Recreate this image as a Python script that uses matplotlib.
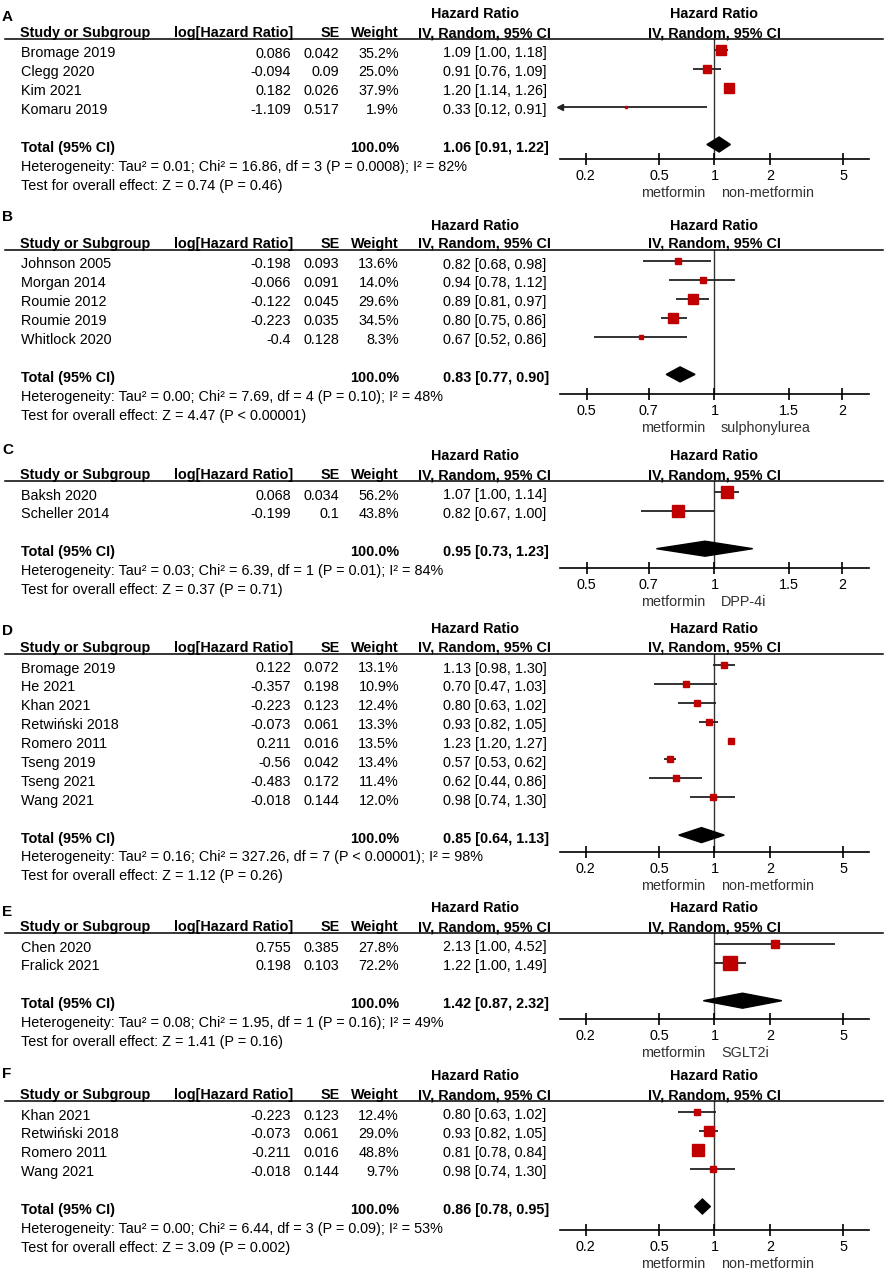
import matplotlib
matplotlib.use('Agg')
import matplotlib.pyplot as plt
from matplotlib.lines import Line2D

plt.rcParams['font.family'] = ['Liberation Sans', 'DejaVu Sans']

W, H = 891, 1273
fig = plt.figure(figsize=(W / 100, H / 100), dpi=100)

# ---- data ----
# A: metformin vs non-metformin
a_study = ['Bromage 2019', 'Clegg 2020', 'Kim 2021', 'Komaru 2019']
a_loghr = [0.086, -0.094, 0.182, -1.109]
a_se = [0.042, 0.09, 0.026, 0.517]
a_weight = [35.2, 25.0, 37.9, 1.9]
a_hr = [1.09, 0.91, 1.20, 0.33]
a_lo = [1.00, 0.76, 1.14, 0.12]
a_hi = [1.18, 1.09, 1.26, 0.91]
a_total = [1.06, 0.91, 1.22]
a_het = 'Heterogeneity: Tau² = 0.01; Chi² = 16.86, df = 3 (P = 0.0008); I² = 82%'
a_test = 'Test for overall effect: Z = 0.74 (P = 0.46)'
a_groups = ['metformin', 'non-metformin']

# B: metformin vs sulphonylurea
b_study = ['Johnson 2005', 'Morgan 2014', 'Roumie 2012', 'Roumie 2019', 'Whitlock 2020']
b_loghr = [-0.198, -0.066, -0.122, -0.223, -0.4]
b_se = [0.093, 0.091, 0.045, 0.035, 0.128]
b_weight = [13.6, 14.0, 29.6, 34.5, 8.3]
b_hr = [0.82, 0.94, 0.89, 0.80, 0.67]
b_lo = [0.68, 0.78, 0.81, 0.75, 0.52]
b_hi = [0.98, 1.12, 0.97, 0.86, 0.86]
b_total = [0.83, 0.77, 0.90]
b_het = 'Heterogeneity: Tau² = 0.00; Chi² = 7.69, df = 4 (P = 0.10); I² = 48%'
b_test = 'Test for overall effect: Z = 4.47 (P < 0.00001)'
b_groups = ['metformin', 'sulphonylurea']

# C: metformin vs DPP-4i
c_study = ['Baksh 2020', 'Scheller 2014']
c_loghr = [0.068, -0.199]
c_se = [0.034, 0.1]
c_weight = [56.2, 43.8]
c_hr = [1.07, 0.82]
c_lo = [1.00, 0.67]
c_hi = [1.14, 1.00]
c_total = [0.95, 0.73, 1.23]
c_het = 'Heterogeneity: Tau² = 0.03; Chi² = 6.39, df = 1 (P = 0.01); I² = 84%'
c_test = 'Test for overall effect: Z = 0.37 (P = 0.71)'
c_groups = ['metformin', 'DPP-4i']

# D: metformin vs non-metformin
d_study = ['Bromage 2019', 'He 2021', 'Khan 2021', 'Retwiński 2018', 'Romero 2011',
           'Tseng 2019', 'Tseng 2021', 'Wang 2021']
d_loghr = [0.122, -0.357, -0.223, -0.073, 0.211, -0.56, -0.483, -0.018]
d_se = [0.072, 0.198, 0.123, 0.061, 0.016, 0.042, 0.172, 0.144]
d_weight = [13.1, 10.9, 12.4, 13.3, 13.5, 13.4, 11.4, 12.0]
d_hr = [1.13, 0.70, 0.80, 0.93, 1.23, 0.57, 0.62, 0.98]
d_lo = [0.98, 0.47, 0.63, 0.82, 1.20, 0.53, 0.44, 0.74]
d_hi = [1.30, 1.03, 1.02, 1.05, 1.27, 0.62, 0.86, 1.30]
d_total = [0.85, 0.64, 1.13]
d_het = 'Heterogeneity: Tau² = 0.16; Chi² = 327.26, df = 7 (P < 0.00001); I² = 98%'
d_test = 'Test for overall effect: Z = 1.12 (P = 0.26)'
d_groups = ['metformin', 'non-metformin']

# E: metformin vs SGLT2i
e_study = ['Chen 2020', 'Fralick 2021']
e_loghr = [0.755, 0.198]
e_se = [0.385, 0.103]
e_weight = [27.8, 72.2]
e_hr = [2.13, 1.22]
e_lo = [1.00, 1.00]
e_hi = [4.52, 1.49]
e_total = [1.42, 0.87, 2.32]
e_het = 'Heterogeneity: Tau² = 0.08; Chi² = 1.95, df = 1 (P = 0.16); I² = 49%'
e_test = 'Test for overall effect: Z = 1.41 (P = 0.16)'
e_groups = ['metformin', 'SGLT2i']

# F: metformin vs non-metformin
f_study = ['Khan 2021', 'Retwiński 2018', 'Romero 2011', 'Wang 2021']
f_loghr = [-0.223, -0.073, -0.211, -0.018]
f_se = [0.123, 0.061, 0.016, 0.144]
f_weight = [12.4, 29.0, 48.8, 9.7]
f_hr = [0.80, 0.93, 0.81, 0.98]
f_lo = [0.63, 0.82, 0.78, 0.74]
f_hi = [1.02, 1.05, 0.84, 1.30]
f_total = [0.86, 0.78, 0.95]
f_het = 'Heterogeneity: Tau² = 0.00; Chi² = 6.44, df = 3 (P = 0.09); I² = 53%'
f_test = 'Test for overall effect: Z = 3.09 (P = 0.002)'
f_groups = ['metformin', 'non-metformin']

wide_ticks = [0.2, 0.5, 1, 2, 5]
wide_labels = ['0.2', '0.5', '1', '2', '5']
narrow_ticks = [0.5, 0.7, 1, 1.5, 2]
narrow_labels = ['0.5', '0.7', '1', '1.5', '2']

# ---- layout helpers (pixels) ----
STEP = 18.9
FS = 10.4
RED = '#c00000'


def fx(x):
    return x / W


def fy(y):
    return 1 - y / H


def txt(x, y, s, **kw):
    kw.setdefault('fontsize', FS)
    kw.setdefault('va', 'baseline')
    fig.text(fx(x), fy(y), s, **kw)


def panel(letter, letter_y, line_y, axis_y, study, loghr, se, weight, hr, lo, hi,
          total, het, test, groups, ticks, labels, xlim):
    # headers
    txt(2, letter_y, letter, fontweight='bold', fontsize=11)
    txt(475, line_y - 20.5, 'Hazard Ratio', fontweight='bold', ha='center')
    txt(714, line_y - 20.5, 'Hazard Ratio', fontweight='bold', ha='center')
    hb = line_y - 2
    txt(20, hb, 'Study or Subgroup', fontweight='bold')
    txt(293, hb, 'log[Hazard Ratio]', fontweight='bold', ha='right')
    txt(340, hb, 'SE', fontweight='bold', ha='right')
    txt(399, hb, 'Weight', fontweight='bold', ha='right')
    txt(484, hb, 'IV, Random, 95% CI', fontweight='bold', ha='center')
    txt(714, hb, 'IV, Random, 95% CI', fontweight='bold', ha='center')
    fig.add_artist(Line2D([fx(5), fx(883)], [fy(line_y), fy(line_y)],
                          color='black', lw=1.1))

    rows = [line_y + 11 + i * STEP for i in range(len(study))]
    for i, y in enumerate(rows):
        b = y + 7.5
        txt(21, b, study[i])
        txt(291, b, str(loghr[i]), ha='right')
        txt(339, b, str(se[i]), ha='right')
        txt(399, b, '{:.1f}%'.format(weight[i]), ha='right')
        txt(443, b, '{:.2f} [{:.2f}, {:.2f}]'.format(hr[i], lo[i], hi[i]))
    ty = line_y + 11 + (len(study) + 1) * STEP
    txt(21, ty + 7.5, 'Total (95% CI)', fontweight='bold')
    txt(399, ty + 7.5, '100.0%', fontweight='bold', ha='right')
    txt(443, ty + 7.5, '{:.2f} [{:.2f}, {:.2f}]'.format(*total), fontweight='bold')
    txt(21, ty + STEP + 7.5, het)
    txt(21, ty + 2 * STEP + 7.5, test)

    # forest plot
    ax = fig.add_axes([fx(560), fy(axis_y), fx(869) - fx(560), (axis_y - line_y) / H])
    ax.patch.set_alpha(0)
    ax.set_xscale('log')
    ax.set_xlim(*xlim)
    ax.set_ylim(axis_y, line_y)
    for s in ['left', 'right', 'top']:
        ax.spines[s].set_visible(False)
    ax.spines['bottom'].set_linewidth(1.2)
    ax.set_yticks([])
    ax.set_xticks(ticks)
    ax.set_xticklabels(labels)
    ax.minorticks_off()
    ax.tick_params(axis='x', direction='inout', length=9, width=1.2,
                   labelsize=FS, pad=3)
    ax.axvline(1, color='#333333', lw=1.0, zorder=1)

    for i, y in enumerate(rows):
        left = max(lo[i], xlim[0])
        ax.hlines(y, left, min(hi[i], xlim[1]), color='#222222', lw=1.3, zorder=2)
        if lo[i] < xlim[0]:
            ax.plot([xlim[0]], [y], marker='<', color='#222222', ms=5,
                    clip_on=False, zorder=3)
        side = 1.68 * weight[i] ** 0.5
        ax.plot([hr[i]], [y], marker='s', color=RED, mec=RED,
                ms=side * 0.72, lw=0, zorder=4)

    est, tlo, thi = total
    h = 7.5
    ax.fill([tlo, est, thi, est], [ty, ty - h, ty, ty + h], color='black', zorder=5)

    gy = axis_y + 33
    txt(705, gy + 5, groups[0], ha='right', color='#333333')
    txt(721, gy + 5, groups[1], ha='left', color='#333333')


WIDE = (0.145, 6.9)
NARROW = (0.433, 2.31)

panel('A', 21, 39, 159, a_study, a_loghr, a_se, a_weight, a_hr, a_lo, a_hi,
      a_total, a_het, a_test, a_groups, wide_ticks, wide_labels, WIDE)
panel('B', 221, 250, 394, b_study, b_loghr, b_se, b_weight, b_hr, b_lo, b_hi,
      b_total, b_het, b_test, b_groups, narrow_ticks, narrow_labels, NARROW)
panel('C', 454, 481, 568, c_study, c_loghr, c_se, c_weight, c_hr, c_lo, c_hi,
      c_total, c_het, c_test, c_groups, narrow_ticks, narrow_labels, NARROW)
panel('D', 635, 654, 852, d_study, d_loghr, d_se, d_weight, d_hr, d_lo, d_hi,
      d_total, d_het, d_test, d_groups, wide_ticks, wide_labels, WIDE)
panel('E', 916, 933, 1019, e_study, e_loghr, e_se, e_weight, e_hr, e_lo, e_hi,
      e_total, e_het, e_test, e_groups, wide_ticks, wide_labels, WIDE)
panel('F', 1078, 1101, 1230, f_study, f_loghr, f_se, f_weight, f_hr, f_lo, f_hi,
      f_total, f_het, f_test, f_groups, wide_ticks, wide_labels, WIDE)

fig.savefig('out.png', dpi=100, facecolor='white')
